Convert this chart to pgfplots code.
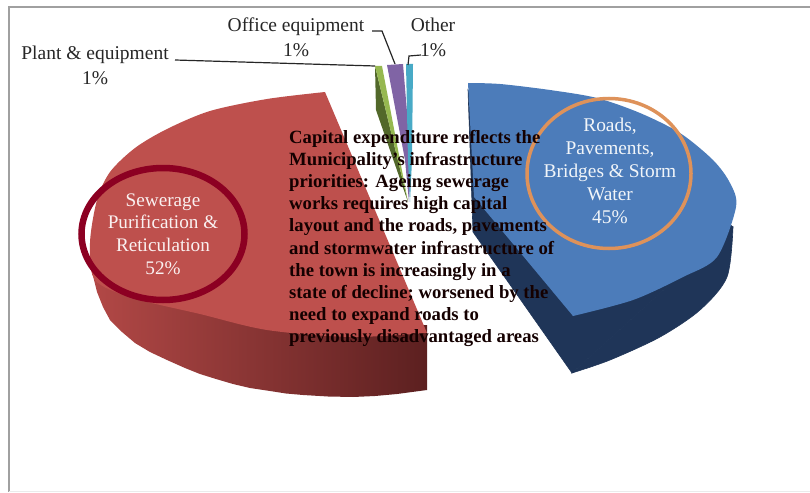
\documentclass[border=0pt]{standalone}
\usepackage{fontspec}
\setmainfont{Liberation Serif}
\usepackage{pgfplots}
\pgfplotsset{compat=1.18}
\definecolor{redtop}{RGB}{190,80,77}
\definecolor{redsideL}{RGB}{178,72,70}
\definecolor{redsideR}{RGB}{92,32,32}
\definecolor{bluetop}{RGB}{76,124,186}
\definecolor{blueside}{RGB}{31,53,88}
\definecolor{ringred}{RGB}{140,0,34}
\definecolor{ringorange}{RGB}{222,146,90}
\definecolor{greentop}{RGB}{150,184,80}
\definecolor{greenside}{RGB}{82,104,42}
\definecolor{purpletop}{RGB}{128,100,165}
\definecolor{cyantop}{RGB}{72,170,198}
\definecolor{framegray}{RGB}{160,160,160}
\begin{document}
\begin{tikzpicture}
\begin{axis}[
    hide axis, scale only axis,
    width=810pt, height=492pt,
    xmin=0, xmax=810, ymin=0, ymax=492,
    y dir=reverse, clip=true,
]
  \path (axis cs:0,0) rectangle (axis cs:810,492);
  %% frame of the pasted chart
  \addplot[draw=framegray, line width=1.3pt] coordinates {(810,7)(9,7)(9,492)};
  \addplot[draw=black!8, line width=1pt] coordinates {(9,491)(810,491)};

  %% sewerage slice: side then top
  \addplot[draw=none, left color=redsideL, right color=redsideR] coordinates {
    (92,272)(97,292)(103,307)(110,320)(122,332)(135,343)(150,352)(167,360)(185,368)
    (200,374)(216,379)(233,384)(250,388)(270,391)(286,393.5)(303,395)(328,396.5)(353,397)
    (375,396)(397,394)(412,392)(427,390)(427,325)(300,325)(92,250)} --cycle;
  \addplot[draw=none, smooth, fill=redtop] coordinates {
    (325,92)(267,99)(210,111)(167,129)(135,148)(110,172)(97,200)(90,243)(95,280)
    (133,298)(200,314)(267,330)(350,337)(427,333)} --cycle;

  %% roads slice: side then top
  \addplot[draw=blueside, line width=0.6pt, fill=blueside] coordinates {
    (468,90)(473,232)(572,373)(733,227)(700,200)(575,300)(500,150)} --cycle;
  \addplot[draw=blueside, line width=0.6pt, smooth, fill=blueside] coordinates {
    (572,373)(610,360)(660,337)(700,310)(727,277)(733,227)} --cycle;
  \addplot[draw=none, fill=bluetop] coordinates {(468,83)(474,197)(573,316)(600,200)} --cycle;
  \addplot[draw=none, smooth, fill=bluetop] coordinates {
    (468,83)(500,84)(550,90)(597,98)(640,113)(680,133)(713,160)(730,183)(736,207)
    (717,257)(683,277)(633,300)(573,316)} --cycle;

  %% three thin slices
  \addplot[draw=none, fill=greenside] coordinates {(375,66)(376,110)(408,202)} --cycle;
  \addplot[draw=none, fill=greentop] coordinates {(375,66)(382,66)(408,202)} --cycle;
  \addplot[draw=none, fill=purpletop] coordinates {(387,65)(403,64)(411,160)(409,202)(405,160)} --cycle;
  \addplot[draw=none, fill=cyantop] coordinates {(406,64)(413,64)(412,160)(410,202)(408,160)} --cycle;

  %% leader lines
  \addplot[draw=black!85, line width=1.2pt] coordinates {(175,60)(375,66)};
  \addplot[draw=black!85, line width=1.2pt] coordinates {(372,31)(382,31)(395,64)};
  \addplot[draw=black!85, line width=1.2pt] coordinates {(408,65)(409,56)(421,55)};

  %% hand drawn rings
  \draw[ringred, line width=6.5pt] (axis cs:163,234) ellipse [x radius=81.5pt, y radius=66pt];
  \draw[ringorange, line width=3.5pt] (axis cs:609,173.5) ellipse [x radius=82pt, y radius=75pt];

  %% labels
  \node[align=center, text=black!85, font=\fontsize{19.5}{25}\selectfont] at (axis cs:95,65.5) {Plant \& equipment\\1\%};
  \node[align=center, text=black!85, font=\fontsize{19.5}{25}\selectfont] at (axis cs:296,37.5) {Office equipment\\1\%};
  \node[align=center, text=black!85, font=\fontsize{19.5}{25}\selectfont] at (axis cs:433,37.5) {Other\\1\%};
  \node[align=center, text=white!92!redtop, font=\fontsize{19.2}{22.7}\selectfont] at (axis cs:163,234) {Sewerage\\Purification \&\\Reticulation\\52\%};
  \node[align=center, text=white!92!bluetop, font=\fontsize{19.4}{23}\selectfont] at (axis cs:610,171) {Roads,\\Pavements,\\Bridges \& Storm\\Water\\45\%};
  \node[align=left, anchor=west, inner sep=0pt, text=black!92!red, font=\fontsize{18.7}{22.1}\selectfont\bfseries] at (axis cs:289,238.5) {Capital expenditure reflects the\\Municipality's infrastructure\\priorities: Ageing sewerage\\works requires high capital\\layout and the roads, pavements\\and stormwater infrastructure of\\the town is increasingly in a\\state of decline; worsened by the\\need to expand roads to\\previously disadvantaged areas};
\end{axis}
\end{tikzpicture}
\end{document}
